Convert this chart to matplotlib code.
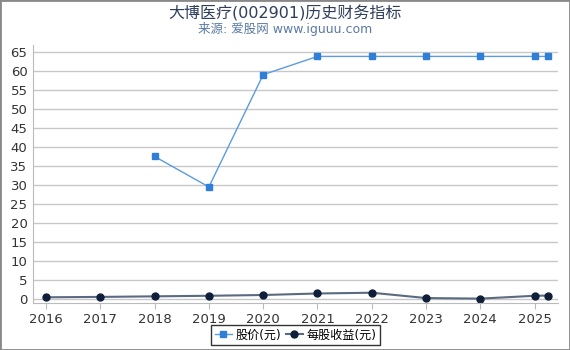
import matplotlib
matplotlib.use("Agg")
import matplotlib.pyplot as plt

plt.rcParams['font.family'] = ['DejaVu Sans', 'Noto Sans CJK SC']

title = "大博医疗(002901)历史财务指标"
subtitle = "来源: 爱股网 www.iguuu.com"
price_x = [2018, 2019, 2020, 2021, 2022, 2023, 2024, 2025, 2025.25]
price_y = [37.5, 29.5, 59.0, 63.8, 63.8, 63.8, 63.8, 63.8, 63.8]
eps_x = [2016, 2017, 2018, 2019, 2020, 2021, 2022, 2023, 2024, 2025, 2025.25]
eps_y = [0.5, 0.6, 0.75, 0.9, 1.1, 1.5, 1.7, 0.3, 0.15, 0.9, 0.95]
year_ticks = [2016, 2017, 2018, 2019, 2020, 2021, 2022, 2023, 2024, 2025]
y_ticks = list(range(0, 70, 5))

fig = plt.figure(figsize=(5.7, 3.5), dpi=100)
ax = fig.add_axes([33/570, 1-303/350, (558-33)/570, (303-45)/350])

ax.plot(price_x, price_y, color='#5b9be0', lw=1, marker='s', ms=5,
        mfc='#2f7fd8', mec='#2f7fd8', label='股价(元)')
ax.plot(eps_x, eps_y, color='#5a6a80', lw=1.5, marker='o', ms=5,
        mfc='#0f1f3a', mec='#0f1f3a', label='每股收益(元)')

ax.set_xlim(2015.76, 2025.43)
ax.set_ylim(-1, 66.8)
ax.set_xticks(year_ticks)
ax.set_xticklabels([str(y) for y in year_ticks])
ax.set_yticks(y_ticks)
ax.grid(axis='y', color='#c8c8c8', lw=1)
ax.set_axisbelow(True)
for s in ['top', 'right']:
    ax.spines[s].set_visible(False)
ax.spines['left'].set_color('#bbbbbb')
ax.spines['bottom'].set_color('#bbbbbb')
ax.tick_params(axis='y', length=0, labelsize=9.5, colors='#333333', pad=4)
ax.tick_params(axis='x', length=4, color='#bbbbbb', labelsize=9.5, colors='#333333')

fig.text(0.5, 1-13/350, title, ha='center', va='center', fontsize=11.5, color='#2e3f5c')
fig.text(0.5, 1-29/350, subtitle, ha='center', va='center', fontsize=9, color='#5a7aa5')

leg = ax.legend(loc='center', bbox_to_anchor=(0.5, (303-335)/(303-45)), ncol=2,
                frameon=True, fancybox=False, edgecolor='black', fontsize=8.7,
                handlelength=1.4, handletextpad=0.3, columnspacing=0.4,
                borderpad=0.3)
leg.get_frame().set_linewidth(1)

fig.patches.append(plt.Rectangle((0, 0), 1, 1, transform=fig.transFigure,
                                 fill=False, edgecolor='#888888', lw=2))
fig.savefig('out.png', dpi=100)
